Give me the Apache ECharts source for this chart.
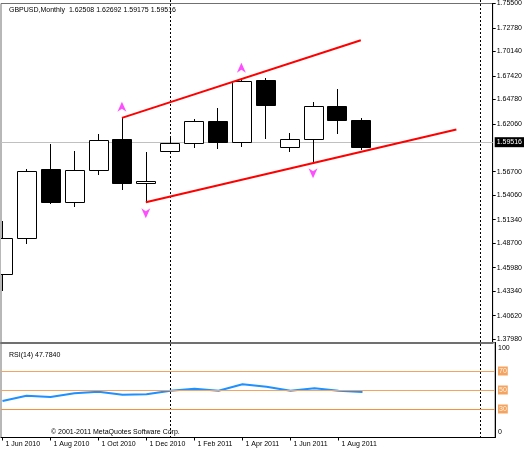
<!DOCTYPE html>
<html><head><meta charset="utf-8">
<script src="https://cdn.jsdelivr.net/npm/echarts@6/dist/echarts.min.js"></script>
<style>html,body{margin:0;padding:0;background:#fff}#c{width:525px;height:450px}</style>
</head><body><div id="c"></div>
<script>
// ---------- data ----------
const symbolName = 'GBPUSD';
const periodName = 'Monthly';
const monthIndex = [0,1,2,3,4,5,6,7,8,9,10,11,12,13,14,15];
const opens  = [1.4524,1.4924,1.5698,1.5328,1.5694,1.6031,1.5542,1.5902,1.5994,1.6236,1.6006,1.6691,1.5950,1.6031,1.6406,1.62508];
const highs  = [1.5117,1.5702,1.5980,1.5906,1.6091,1.6272,1.5894,1.6042,1.6258,1.6383,1.6709,1.6720,1.6098,1.6450,1.6598,1.62692];
const lows   = [1.4339,1.4858,1.5309,1.5272,1.5628,1.5469,1.5328,1.5896,1.5939,1.5920,1.5950,1.6031,1.5894,1.5776,1.6091,1.59175];
const closes = [1.4931,1.5680,1.5328,1.5691,1.6020,1.5542,1.5569,1.5991,1.6232,1.6006,1.6680,1.6420,1.6036,1.6406,1.6250,1.59516];
const rsiValues = [38.4,44.0,42.6,46.5,48.2,45.1,45.5,49.3,51.4,49.3,56.0,53.5,49.3,51.8,49.3,47.784];
const xTickIndex  = [0,2,4,6,8,10,12,14];
const xTickLabels = ['1 Jun 2010','1 Aug 2010','1 Oct 2010','1 Dec 2010','1 Feb 2011','1 Apr 2011','1 Jun 2011','1 Aug 2011'];
const priceTickLabels = ['1.37980','1.40620','1.43340','1.45980','1.48700','1.51340','1.54060','1.56700',
                         '1.62060','1.64780','1.67420','1.70140','1.72780','1.75500'];
const rsiTickValues = [0,30,50,70,100];
const rsiLevels = [70,50,30];
const upFractals   = [[5,1.6272],[10,1.6709]];
const downFractals = [[6,1.5328],[13,1.5776]];
const upperChannel = [[5,1.6272],[15,1.7139]];
const lowerChannel = [[6,1.5328],[19,1.6142]];
const separatorIndex = [7,20];
const bidPrice = 1.59516;
const rsiPeriod = 14;
const copyrightText = '\u00a9 2001-2011 MetaQuotes Software Corp.';

// ---------- chart ----------
const FONT = 'Liberation Sans';
const FS = 7;
const chart = echarts.init(document.getElementById('c'), null, {renderer:'canvas'});
const last = opens.length - 1;
const xMin = -0.0625, xMax = 20.5208;

const candleData = monthIndex.map((m,i)=>[m, opens[i], closes[i], lows[i], highs[i]]);

function renderCandle(params, api){
  const x = api.value(0);
  const o = api.value(1), c = api.value(2), l = api.value(3), h = api.value(4);
  const pO = api.coord([x,o]), pC = api.coord([x,c]), pL = api.coord([x,l]), pH = api.coord([x,h]);
  const w = Math.round(api.size([1,0])[0]*0.78);
  const cx = Math.round(pO[0]) + 0.5;
  const top = Math.round(Math.min(pO[1],pC[1])) + 0.5;
  const bot = Math.round(Math.max(pO[1],pC[1])) + 0.5;
  const left = Math.round(pO[0] - w/2) + 0.5;
  return {type:'group', children:[
    {type:'line', shape:{x1:cx, y1:Math.round(pH[1]), x2:cx, y2:Math.round(pL[1])}, style:{stroke:'#000', lineWidth:1}},
    {type:'rect', shape:{x:left, y:top, width:w, height:Math.max(bot-top,1)}, style:{fill: c>=o ? '#fff' : '#000', stroke:'#000', lineWidth:1}}
  ]};
}

function renderSeparator(params, api){
  const p = api.coord([api.value(0), 1.6]);
  const x = Math.round(p[0]) + 0.5;
  return {type:'line', shape:{x1:x, y1:0, x2:x, y2:437}, style:{stroke:'#000', lineWidth:1, lineDash:[2,2]}};
}

const arrowUp = 'path://M5,0 L10,10 L5,7 L0,10 Z';
const arrowDown = 'path://M0,0 L5,3 L10,0 L5,10 Z';

const levelColors = {70:'#f4a460', 50:'#f4a460', 30:'#f5913e'};

chart.setOption({
  animation:false,
  textStyle:{fontFamily:FONT, fontSize:FS, color:'#000'},
  title:[
    {left:4, top:2, text: symbolName + ',' + periodName + '  ' + [opens[last],highs[last],lows[last],closes[last]].map(v=>v.toFixed(5)).join(' '),
     textStyle:{fontFamily:FONT, fontSize:FS, fontWeight:'normal', color:'#000'}},
    {left:4, top:347, text:'RSI(' + rsiPeriod + ') ' + rsiValues[last].toFixed(4),
     textStyle:{fontFamily:FONT, fontSize:FS, fontWeight:'normal', color:'#000'}},
    {left:46, top:424, text:copyrightText,
     textStyle:{fontFamily:FONT, fontSize:FS, fontWeight:'normal', color:'#000'}}
  ],
  grid:[
    {left:1, right:30, top:1, height:341.5, show:true, borderColor:'#707070', borderWidth:1},
    {left:1, right:30, top:342.5, height:95, show:true, borderColor:'#707070', borderWidth:1}
  ],
  xAxis:[
    {type:'value', gridIndex:0, min:xMin, max:xMax,
     axisLine:{show:true, onZero:false, lineStyle:{color:'#707070', width:2}},
     axisTick:{show:false}, axisLabel:{show:false}, splitLine:{show:false}},
    {type:'value', gridIndex:1, min:xMin, max:xMax,
     axisLine:{show:true, onZero:false, lineStyle:{color:'#000', width:1}},
     axisTick:{show:true, length:3, customValues:xTickIndex, lineStyle:{color:'#000'}},
     axisLabel:{show:true, customValues:xTickIndex, formatter:v=>xTickLabels[xTickIndex.indexOf(v)] || '',
                align:'left', padding:[0,0,0,3], margin:3, fontFamily:FONT, fontSize:FS, color:'#000'},
     splitLine:{show:false}}
  ],
  yAxis:[
    {type:'value', gridIndex:0, position:'right', min:1.37613, max:1.7550,
     axisLine:{show:true, onZero:false, lineStyle:{color:'#000', width:1}},
     axisTick:{show:true, length:3, customValues:priceTickLabels.map(Number), lineStyle:{color:'#000'}},
     axisLabel:{show:true, customValues:priceTickLabels.map(Number), formatter:v=>v.toFixed(5),
                margin:4, fontFamily:FONT, fontSize:FS, color:'#000'},
     splitLine:{show:false}},
    {type:'value', gridIndex:1, position:'right', min:0, max:100,
     axisLine:{show:true, onZero:false, lineStyle:{color:'#000', width:1}},
     axisTick:{show:false},
     axisLabel:{show:true, customValues:rsiTickValues, margin:3, fontFamily:FONT, fontSize:FS, color:'#000',
       formatter:v=> v===100 ? '{t|100}' : (v===0 ? '{b|0}' : '{l|' + v + '}'),
       rich:{
         t:{padding:[11,0,0,0], fontFamily:FONT, fontSize:FS, color:'#000'},
         b:{padding:[0,0,11,0], fontFamily:FONT, fontSize:FS, color:'#000'},
         l:{backgroundColor:'#f4a460', color:'#fff3e6', padding:[1,1], fontFamily:FONT, fontSize:FS}
       }},
     splitLine:{show:false}}
  ],
  series:[
    {type:'line', xAxisIndex:0, yAxisIndex:0, data:[], z:1, silent:true,
     markLine:{silent:true, symbol:'none', animation:false,
       lineStyle:{color:'#c0c0c0', type:'solid', width:1},
       label:{show:true, position:'end', distance:2, formatter:()=>bidPrice.toFixed(5),
              backgroundColor:'#000', color:'#fff', padding:[2,2,1,2], fontFamily:FONT, fontSize:FS},
       data:[{yAxis:bidPrice}]}},
    {type:'custom', xAxisIndex:0, yAxisIndex:0, data:separatorIndex.map(v=>[v]), encode:{x:0},
     renderItem:renderSeparator, clip:false, z:2, silent:true},
    {type:'custom', xAxisIndex:0, yAxisIndex:0, data:candleData, encode:{x:0, y:[1,2,3,4]},
     renderItem:renderCandle, clip:true, z:5, silent:true},
    {type:'line', xAxisIndex:0, yAxisIndex:0, data:upperChannel, symbol:'none', z:6, silent:true,
     lineStyle:{color:'#ff0000', width:2}},
    {type:'line', xAxisIndex:0, yAxisIndex:0, data:lowerChannel, symbol:'none', z:6, silent:true,
     lineStyle:{color:'#ff0000', width:2}},
    {type:'scatter', xAxisIndex:0, yAxisIndex:0, data:upFractals, symbol:arrowUp, symbolSize:[9,10],
     symbolOffset:[0,-11], itemStyle:{color:'#ff22ff'}, z:7, silent:true},
    {type:'scatter', xAxisIndex:0, yAxisIndex:0, data:downFractals, symbol:arrowDown, symbolSize:[9,10],
     symbolOffset:[0,11], itemStyle:{color:'#ff22ff'}, z:7, silent:true},
    {type:'line', xAxisIndex:1, yAxisIndex:1, data:[], z:1, silent:true,
     markLine:{silent:true, symbol:'none', animation:false, label:{show:false},
       data: rsiLevels.map(v=>({yAxis:v, lineStyle:{color:levelColors[v], type:'solid', width:1}}))}},
    {type:'line', xAxisIndex:1, yAxisIndex:1, data:monthIndex.map((m,i)=>[m, rsiValues[i]]), symbol:'none',
     z:4, silent:true, clip:true, lineStyle:{color:'#1e90ff', width:2}}
  ]
});
</script></body></html>
